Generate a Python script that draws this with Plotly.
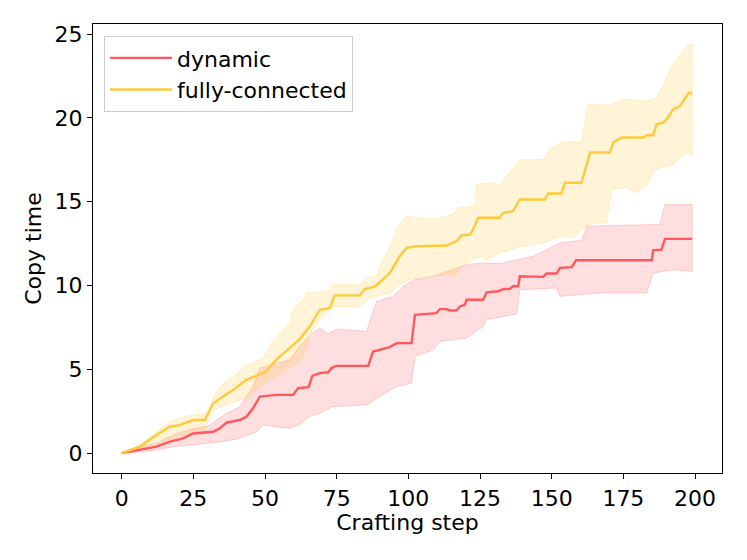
import plotly.graph_objects as go

# ---- data ----
fc_mean_x = [0, 6.3, 12.1, 16.8, 20.2, 24.9, 29, 31.9, 35.4, 38.9, 43.5, 50.5, 52.3, 55.1, 58.6, 62.1, 65.6, 69.1, 72.6, 74.3,
             83.1, 84.8, 88.3, 90.1, 93.5, 97, 99.4, 102.8, 113.3, 116.8, 118.6, 121.5, 122.6, 124.4, 131.9, 133.1, 136.5,
             138.9, 147.6, 148.8, 153.4, 154.6, 160.4, 163.4, 170.3, 171.5, 174.4, 182, 183.1, 185.4, 186.6, 188.9, 190.1,
             192.4, 194.8, 197.1, 197.7, 199]
fc_mean_y = [0, 0.38, 1.08, 1.57, 1.67, 1.97, 1.97, 2.97, 3.37, 3.77, 4.37, 4.86, 5.26, 5.76, 6.26, 6.8, 7.55, 8.55, 8.65, 9.41,
             9.41, 9.79, 9.95, 10.19, 10.74, 11.74, 12.24, 12.34, 12.38, 12.64, 12.98, 13.04, 13.34, 14.04, 14.04, 14.33, 14.43,
             15.13, 15.13, 15.49, 15.49, 16.13, 16.13, 17.93, 17.93, 18.53, 18.83, 18.83, 18.96, 18.96, 19.62, 19.72, 19.92,
             20.51, 20.71, 21.31, 21.47, 21.47]

fc_up_x = [0, 6.3, 12.1, 16.8, 22.6, 28.3, 30.5, 31.9, 35.4, 38.9, 43.5, 49.3, 52.3, 56.3, 58.6, 59.8, 63.3, 64.5, 69.1, 72.6,
           73.7, 83.1, 85.4, 88.9, 91.2, 93.5, 96.4, 99.4, 102.8, 108.7, 115.7, 117.4, 123.2, 123.8, 128.5, 131.9, 136.5,
           138.9, 147, 149.4, 153.4, 160.4, 162.6, 170.3, 175, 182, 186, 188.9, 191.8, 195.3, 198.2, 199]
fc_up_y = [0, 0.48, 1.27, 1.87, 2.21, 2.33, 2.4, 3.37, 4.17, 4.56, 5.26, 5.66, 6.56, 7.36, 7.76, 8.55, 9.15, 9.59, 9.6, 9.7,
           10.05, 10.05, 10.45, 10.55, 11.54, 12.24, 13.54, 14.13, 14.04, 13.94, 14.23, 14.63, 14.73, 16.03, 16.13, 16.0, 17.0,
           17.5, 17.52, 18.12, 18.56, 18.56, 20.81, 20.75, 21.11, 21.01, 21.11, 21.9, 23.1, 23.9, 24.4, 24.4]

fc_lo_x = [0, 6.3, 12.1, 17.9, 20.2, 23.7, 29, 31.9, 37.7, 43.5, 50.5, 56.3, 62.1, 64.5, 65.6, 69.1, 73.7, 83.1, 85.4, 88.9,
           93.5, 97, 100.5, 106.3, 116.8, 119.1, 125, 127.3, 131.9, 138.9, 147, 152.9, 156.4, 158, 160.4, 164.5, 169.1,
           170.9, 176.1, 179, 183.1, 186, 192.4, 197.1, 199]
fc_lo_y = [0, 0.2, 0.62, 0.88, 1.08, 1.21, 1.37, 2.57, 2.97, 3.27, 4.27, 4.77, 5.5, 6.16, 7.0, 8.0, 8.75, 8.75, 9.15, 9.35,
           9.55, 10.05, 10.35, 10.55, 10.65, 11.24, 11.74, 11.54, 11.94, 12.3, 12.54, 12.94, 12.84, 12.9, 13.34, 13.74, 13.74,
           15.73, 15.83, 15.53, 15.93, 16.93, 17.22, 17.93, 17.73]

dyn_mean_x = [0, 6.3, 12.1, 16.8, 21.4, 24.9, 28.3, 31.9, 34.2, 36.5, 41.2, 43.5, 45.8, 48.2, 54, 59.8, 61.5, 65.2, 66.5, 69.1,
              72, 73.2, 74.9, 86, 87.7, 90.1, 93.5, 95.9, 101.1, 102.3, 106.3, 109.8, 111, 113.3, 114.5, 116.8, 118, 119.7,
              120.3, 126.1, 127.3, 131.4, 133.1, 135.4, 136.5, 138.3, 138.9, 147, 148.2, 151.7, 152.9, 157, 158.5, 184.9,
              185.4, 188.3, 189.5, 199]
dyn_mean_y = [0, 0.18, 0.38, 0.68, 0.88, 1.17, 1.21, 1.27, 1.47, 1.81, 1.97, 2.17, 2.67, 3.37, 3.47, 3.47, 3.87, 3.93, 4.6, 4.77,
              4.82, 5.07, 5.2, 5.2, 6.06, 6.16, 6.32, 6.56, 6.56, 8.25, 8.31, 8.35, 8.59, 8.59, 8.51, 8.51, 8.75, 8.85,
              9.15, 9.15, 9.59, 9.65, 9.79, 9.79, 9.95, 9.95, 10.55, 10.51, 10.71, 10.71, 11.05, 11.09, 11.5, 11.5,
              12.1, 12.14, 12.78, 12.78]

dyn_up_x = [0, 6.3, 12.1, 17.9, 21.4, 24.9, 30, 33, 36.5, 41.2, 45.8, 48.2, 54, 58.6, 62.1, 66.8, 69.1, 72, 74.9, 85.4,
            88.9, 94.7, 98.2, 102.3, 108.7, 120.3, 126.1, 131.9, 143.6, 152.9, 160.5, 162.2, 187.8, 189.5, 199]
dyn_up_y = [0, 0.38, 0.58, 1.08, 1.27, 1.47, 1.6, 1.97, 2.37, 2.77, 3.97, 5.07, 5.36, 5.56, 6.4, 7.2, 7.46, 7.1, 7.4, 7.26,
            9.05, 9.35, 9.95, 10.35, 10.55, 11.24, 11.34, 11.3, 11.74, 12.54, 12.7, 13.54, 13.64, 14.83, 14.83]

dyn_lo_x = [0, 6.3, 12.1, 17.9, 23.7, 29.5, 35.4, 41.2, 47, 49.3, 54, 58.6, 62.1, 65.6, 69.1, 73.7, 85.4, 90.1, 95.9, 101.1,
            102.3, 108.7, 111, 120.3, 126.1, 127.3, 137.8, 138.9, 151.7, 152.9, 166.8, 183.1, 185.4, 192.4, 199]
dyn_lo_y = [0, 0.06, 0.18, 0.38, 0.48, 0.58, 0.68, 0.88, 1.27, 1.67, 1.57, 1.47, 1.7, 2.2, 2.37, 2.77, 2.87, 3.37, 3.97, 4.17,
            5.76, 6.16, 6.66, 6.86, 7.55, 7.95, 8.3, 9.75, 9.85, 9.35, 9.55, 9.55, 10.74, 10.94, 10.84]

series_names = ["dynamic", "fully-connected"]
x_ticks = [0, 25, 50, 75, 100, 125, 150, 175, 200]
y_ticks = [0, 5, 10, 15, 20, 25]

RED = "#ff595e"
YEL = "#ffca3a"
FONT = "DejaVu Sans"
FS = 22

fig = go.Figure()

def band(ux, uy, lx, ly, rgb):
    fig.add_trace(go.Scatter(
        x=list(ux) + list(lx)[::-1], y=list(uy) + list(ly)[::-1],
        fill="toself", fillcolor=f"rgba({rgb},0.2)",
        line=dict(color=f"rgba({rgb},0.25)", width=1),
        mode="lines", showlegend=False, hoverinfo="skip"))

band(dyn_up_x, dyn_up_y, dyn_lo_x, dyn_lo_y, "255,89,94")
band(fc_up_x, fc_up_y, fc_lo_x, fc_lo_y, "255,202,58")

fig.add_trace(go.Scatter(x=dyn_mean_x, y=dyn_mean_y, mode="lines", name=series_names[0],
                         line=dict(color=RED, width=2.4)))
fig.add_trace(go.Scatter(x=fc_mean_x, y=fc_mean_y, mode="lines", name=series_names[1],
                         line=dict(color=YEL, width=2.4)))

axis_common = dict(showgrid=False, zeroline=False, showline=True, mirror=True,
                   linecolor="black", linewidth=1.2, ticks="outside", ticklen=5,
                   tickwidth=1.2, tickcolor="black", automargin=False,
                   tickfont=dict(family=FONT, size=FS, color="black"))

fig.update_layout(
    width=747, height=560,
    margin=dict(l=85, r=33, t=16, b=95),
    paper_bgcolor="white", plot_bgcolor="white",
    font=dict(family=FONT, size=FS, color="black"),
    xaxis=dict(range=[-10, 209.4], tickvals=x_ticks,
               title=dict(text="Crafting step", font=dict(family=FONT, size=FS), standoff=4),
               **axis_common),
    yaxis=dict(range=[-1.19, 25.6], tickvals=y_ticks,
               title=dict(text="Copy time", font=dict(family=FONT, size=FS), standoff=6),
               **axis_common),
    legend=dict(x=0.0175, y=0.973, xanchor="left", yanchor="top", itemwidth=62,
                bgcolor="rgba(255,255,255,0.8)", bordercolor="#cccccc", borderwidth=1,
                font=dict(family=FONT, size=FS, color="black")),
    showlegend=True,
)

fig.write_html("out.html")
